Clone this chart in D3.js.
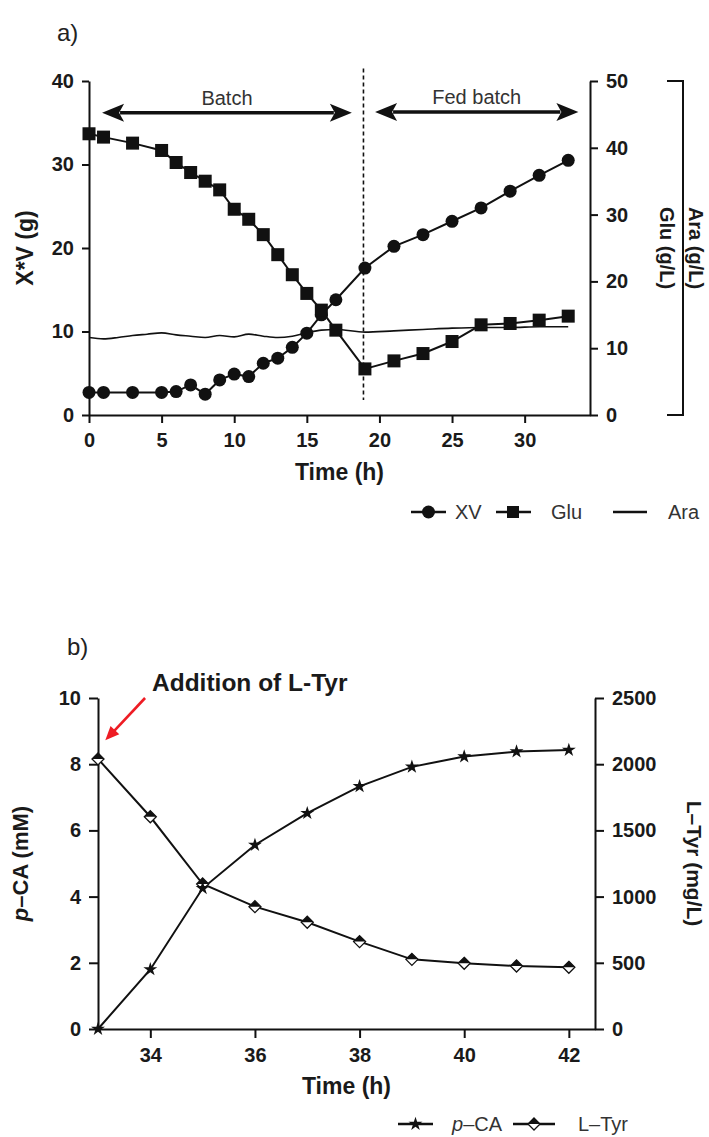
<!DOCTYPE html>
<html><head><meta charset="utf-8">
<script src="https://cdn.jsdelivr.net/npm/d3@7"></script>
<style>body{margin:0;background:#fff} svg{display:block}</style>
</head><body>
<svg id="chart" width="709" height="1137"></svg>
<script>
// ---------- Panel a data ----------
const timeA = [0,1,3,5,6,7,8,9,10,11,12,13,14,15,16,17,19,21,23,25,27,29,31,33];
const xvValues = [2.7,2.7,2.7,2.7,2.8,3.6,2.5,4.2,4.9,4.6,6.2,6.8,8.1,9.8,12.0,13.8,17.6,20.2,21.6,23.2,24.8,26.8,28.7,30.5];
const gluValues = [42.1,41.6,40.7,39.6,37.8,36.3,35.0,33.7,30.8,29.3,27.0,24.0,21.0,18.2,15.7,12.7,6.9,8.1,9.2,11.0,13.5,13.7,14.2,14.8];
const timeAra = [0,1,2,3,4,5,6,7,8,9,10,11,12,13,14,15,16,17,19,21,23,25,27,29,31,33];
const araValues = [11.6,11.4,11.6,11.9,12.1,12.3,12.0,11.8,11.6,11.9,11.7,12.1,11.8,11.6,11.8,12.3,12.7,12.8,12.4,12.6,12.8,13.0,13.1,13.1,13.2,13.2];
const xTicksA = [0,5,10,15,20,25,30];
const yTicksA = [0,10,20,30,40];
const y2TicksA = [0,10,20,30,40,50];
const phaseSwitch = 18.9;
const legendA = ["XV","Glu","Ara"];

// ---------- Panel b data ----------
const timeB = [33,34,35,36,37,38,39,40,41,42];
const pcaValues = [0,1.80,4.25,5.56,6.52,7.33,7.92,8.23,8.38,8.43];
const tyrValues = [2040,1603,1095,924,806,660,526,496,476,466];
const xTicksB = [34,36,38,40,42];
const yTicksB = [0,2,4,6,8,10];
const y2TicksB = [0,500,1000,1500,2000,2500];

const FONT = "'Liberation Sans', Arial, Helvetica, sans-serif";
const INK = "#111";
const svg = d3.select("#chart").attr("font-family", FONT);

function styleAxis(g, fs) {
  g.attr("font-family", FONT);
  g.select(".domain").attr("stroke", INK).attr("stroke-width", 2);
  g.selectAll(".tick line").attr("stroke", INK).attr("stroke-width", 2);
  g.selectAll(".tick text").attr("fill", "#1a1a1a").attr("font-size", fs)
    .attr("font-weight", "bold").attr("font-family", FONT);
}
function doubleArrow(g, x1, x2, y) {
  const hl = 22, hw = 9;
  g.append("line").attr("x1", x1 + hl - 4).attr("x2", x2 - hl + 4).attr("y1", y).attr("y2", y)
    .attr("stroke", INK).attr("stroke-width", 3.5);
  g.append("path").attr("d", `M${x1},${y} L${x1+hl},${y-hw} L${x1+hl-5},${y} L${x1+hl},${y+hw} Z`).attr("fill", INK);
  g.append("path").attr("d", `M${x2},${y} L${x2-hl},${y-hw} L${x2-hl+5},${y} L${x2-hl},${y+hw} Z`).attr("fill", INK);
}
function halfDiamond(g, cx, cy, r) {
  g.append("path").attr("d", `M${cx},${cy-r} L${cx+r},${cy} L${cx},${cy+r} L${cx-r},${cy} Z`)
    .attr("fill", "#fff").attr("stroke", INK).attr("stroke-width", 1.3);
  g.append("path").attr("d", `M${cx},${cy-r} L${cx+r},${cy} L${cx-r},${cy} Z`).attr("fill", INK);
}

// ================= Panel a =================
const xA = d3.scaleLinear().domain([0, 34.5]).range([89, 590]);
const yA = d3.scaleLinear().domain([0, 40]).range([415, 81]);
const yA2 = d3.scaleLinear().domain([0, 50]).range([415, 81]);
const gA = svg.append("g");

gA.append("text").attr("x", 57).attr("y", 41).attr("font-size", 24).attr("fill", "#222").text("a)");

gA.append("g").attr("transform", `translate(0,${yA(0)})`)
  .call(d3.axisBottom(xA).tickValues(xTicksA).tickSize(8).tickPadding(10).tickSizeOuter(0))
  .call(styleAxis, 20);
gA.append("g").attr("transform", `translate(${xA(0)},0)`)
  .call(d3.axisLeft(yA).tickValues(yTicksA).tickSize(7).tickPadding(8).tickSizeOuter(0))
  .call(styleAxis, 20);
gA.append("g").attr("transform", `translate(${xA(34.5)},0)`)
  .call(d3.axisRight(yA2).tickValues(y2TicksA).tickSize(8).tickPadding(8).tickSizeOuter(0))
  .call(styleAxis, 20);

// axis titles
gA.append("text").attr("transform", `translate(33,${(yA(0)+yA(40))/2}) rotate(-90)`)
  .attr("text-anchor", "middle").attr("font-size", 23).attr("font-weight", "bold").attr("fill", "#1a1a1a").text("X*V (g)");
gA.append("text").attr("x", (xA(0)+xA(34.5))/2).attr("y", 480)
  .attr("text-anchor", "middle").attr("font-size", 23).attr("font-weight", "bold").attr("fill", "#1a1a1a").text("Time (h)");
gA.append("text").attr("transform", `translate(660,${(yA2(0)+yA2(50))/2}) rotate(90)`)
  .attr("text-anchor", "middle").attr("font-size", 20).attr("font-weight", "bold").attr("fill", "#1a1a1a").text("Glu (g/L)");
gA.append("text").attr("transform", `translate(689,${(yA2(0)+yA2(50))/2}) rotate(90)`)
  .attr("text-anchor", "middle").attr("font-size", 20).attr("font-weight", "bold").attr("fill", "#1a1a1a").text("Ara (g/L)");
gA.append("path").attr("d", `M667,${yA2(50)} H683 V${yA2(0)} H667`).attr("fill", "none").attr("stroke", INK).attr("stroke-width", 2);

// phase annotations
gA.append("line").attr("x1", xA(phaseSwitch)).attr("x2", xA(phaseSwitch)).attr("y1", yA(41.5)).attr("y2", yA(1.8))
  .attr("stroke", INK).attr("stroke-width", 1.6).attr("stroke-dasharray", "4,3");
doubleArrow(gA, xA(0.9), xA(18.1), yA(36.2));
doubleArrow(gA, xA(19.7), xA(33.7), yA(36.3));
gA.append("text").attr("x", (xA(0.9)+xA(18.1))/2).attr("y", 105).attr("text-anchor", "middle")
  .attr("font-size", 20).attr("fill", "#333").text("Batch");
gA.append("text").attr("x", (xA(19.7)+xA(33.7))/2).attr("y", 104).attr("text-anchor", "middle")
  .attr("font-size", 20).attr("fill", "#333").text("Fed batch");

// series
const araData = timeAra.map((t, i) => ({t, v: araValues[i]}));
const xvData = timeA.map((t, i) => ({t, v: xvValues[i]}));
const gluData = timeA.map((t, i) => ({t, v: gluValues[i]}));

gA.append("path").datum(araData).attr("fill", "none").attr("stroke", INK).attr("stroke-width", 1.6)
  .attr("d", d3.line().x(d => xA(d.t)).y(d => yA2(d.v)).curve(d3.curveMonotoneX));
gA.append("path").datum(xvData).attr("fill", "none").attr("stroke", INK).attr("stroke-width", 2)
  .attr("d", d3.line().x(d => xA(d.t)).y(d => yA(d.v)));
gA.selectAll("circle.xv").data(xvData).join("circle").attr("class", "xv")
  .attr("cx", d => xA(d.t)).attr("cy", d => yA(d.v)).attr("r", 6.5).attr("fill", INK);
gA.append("path").datum(gluData).attr("fill", "none").attr("stroke", INK).attr("stroke-width", 2)
  .attr("d", d3.line().x(d => xA(d.t)).y(d => yA2(d.v)));
gA.selectAll("rect.glu").data(gluData).join("rect").attr("class", "glu")
  .attr("x", d => xA(d.t) - 6.5).attr("y", d => yA2(d.v) - 6.5).attr("width", 13).attr("height", 13).attr("fill", INK);

// legend a
const legA = gA.append("g").attr("transform", "translate(0,512)");
legA.append("line").attr("x1", 411).attr("x2", 446).attr("stroke", INK).attr("stroke-width", 2.5);
legA.append("circle").attr("cx", 428.5).attr("r", 6.5).attr("fill", INK);
legA.append("text").attr("x", 455).attr("y", 7).attr("font-size", 20).attr("fill", "#333").text(legendA[0]);
legA.append("line").attr("x1", 496).attr("x2", 531).attr("stroke", INK).attr("stroke-width", 2.5);
legA.append("rect").attr("x", 507).attr("y", -6).attr("width", 12).attr("height", 12).attr("fill", INK);
legA.append("text").attr("x", 551).attr("y", 7).attr("font-size", 20).attr("fill", "#333").text(legendA[1]);
legA.append("line").attr("x1", 613).attr("x2", 647).attr("stroke", INK).attr("stroke-width", 2.5);
legA.append("text").attr("x", 668).attr("y", 7).attr("font-size", 20).attr("fill", "#333").text(legendA[2]);

// ================= Panel b =================
const xB = d3.scaleLinear().domain([33, 42.5]).range([98, 595]);
const yB = d3.scaleLinear().domain([0, 10]).range([1029, 698]);
const yB2 = d3.scaleLinear().domain([0, 2500]).range([1029, 698]);
const gB = svg.append("g");

gB.append("text").attr("x", 67).attr("y", 655).attr("font-size", 24).attr("fill", "#222").text("b)");

gB.append("g").attr("transform", `translate(0,${yB(0)})`)
  .call(d3.axisBottom(xB).tickValues(xTicksB).tickSize(9).tickPadding(10).tickSizeOuter(0))
  .call(styleAxis, 20);
gB.append("g").attr("transform", `translate(${xB(33)},0)`)
  .call(d3.axisLeft(yB).tickValues(yTicksB).tickSize(9).tickPadding(8).tickSizeOuter(0))
  .call(styleAxis, 20);
gB.append("g").attr("transform", `translate(${xB(42.5)},0)`)
  .call(d3.axisRight(yB2).tickValues(y2TicksB).tickFormat(d3.format("d")).tickSize(9).tickPadding(8).tickSizeOuter(0))
  .call(styleAxis, 20);

const pLabel = gB.append("text").attr("transform", `translate(28,${(yB(0)+yB(10))/2}) rotate(-90)`)
  .attr("text-anchor", "middle").attr("font-size", 22).attr("font-weight", "bold").attr("fill", "#1a1a1a");
pLabel.append("tspan").attr("font-style", "italic").text("p");
pLabel.append("tspan").text("\u2013CA (mM)");
gB.append("text").attr("x", (xB(33)+xB(42.5))/2).attr("y", 1094)
  .attr("text-anchor", "middle").attr("font-size", 23).attr("font-weight", "bold").attr("fill", "#1a1a1a").text("Time (h)");
gB.append("text").attr("transform", `translate(687,${(yB2(0)+yB2(2500))/2}) rotate(90)`)
  .attr("text-anchor", "middle").attr("font-size", 21).attr("font-weight", "bold").attr("fill", "#1a1a1a").text("L\u2013Tyr (mg/L)");

// annotation
gB.append("text").attr("x", 152).attr("y", 691).attr("font-size", 24.5).attr("font-weight", "bold").attr("fill", "#1a1a1a")
  .text("Addition of L-Tyr");
const ax1 = xB(33.9), ay1 = yB(10), ax2 = xB(33.14), ay2 = yB(8.72);
const ang = Math.atan2(ay2 - ay1, ax2 - ax1);
const hL = 14, hW = 6;
gB.append("line").attr("x1", ax1).attr("y1", ay1)
  .attr("x2", ax2 - Math.cos(ang) * (hL - 2)).attr("y2", ay2 - Math.sin(ang) * (hL - 2))
  .attr("stroke", "#ee1c24").attr("stroke-width", 2.6);
gB.append("path").attr("fill", "#ee1c24").attr("d", () => {
  const bx = ax2 - Math.cos(ang) * hL, by = ay2 - Math.sin(ang) * hL;
  const px = -Math.sin(ang) * hW, py = Math.cos(ang) * hW;
  return `M${ax2},${ay2} L${bx+px},${by+py} L${bx-px},${by-py} Z`;
});

const pcaData = timeB.map((t, i) => ({t, v: pcaValues[i]}));
const tyrData = timeB.map((t, i) => ({t, v: tyrValues[i]}));
gB.append("path").datum(tyrData).attr("fill", "none").attr("stroke", INK).attr("stroke-width", 2)
  .attr("d", d3.line().x(d => xB(d.t)).y(d => yB2(d.v)));
gB.append("path").datum(pcaData).attr("fill", "none").attr("stroke", INK).attr("stroke-width", 2)
  .attr("d", d3.line().x(d => xB(d.t)).y(d => yB(d.v)));
tyrData.forEach(d => halfDiamond(gB, xB(d.t), yB2(d.v), 6));
const star = d3.symbol().type(d3.symbolStar).size(60);
gB.selectAll("path.pca").data(pcaData).join("path").attr("class", "pca")
  .attr("transform", d => `translate(${xB(d.t)},${yB(d.v)})`).attr("d", star).attr("fill", INK);

// legend b
const legB = gB.append("g").attr("transform", "translate(0,1124)");
legB.append("line").attr("x1", 398).attr("x2", 433).attr("stroke", INK).attr("stroke-width", 2.5);
legB.append("path").attr("transform", "translate(415.5,0)").attr("d", star).attr("fill", INK);
const lt = legB.append("text").attr("x", 452).attr("y", 7).attr("font-size", 20).attr("fill", "#333");
lt.append("tspan").attr("font-style", "italic").text("p");
lt.append("tspan").text("\u2013CA");
legB.append("line").attr("x1", 513).attr("x2", 555).attr("stroke", INK).attr("stroke-width", 2.5);
halfDiamond(legB, 534, 0, 6);
legB.append("text").attr("x", 578).attr("y", 7).attr("font-size", 20).attr("fill", "#333").text("L\u2013Tyr");
</script>
</body></html>
